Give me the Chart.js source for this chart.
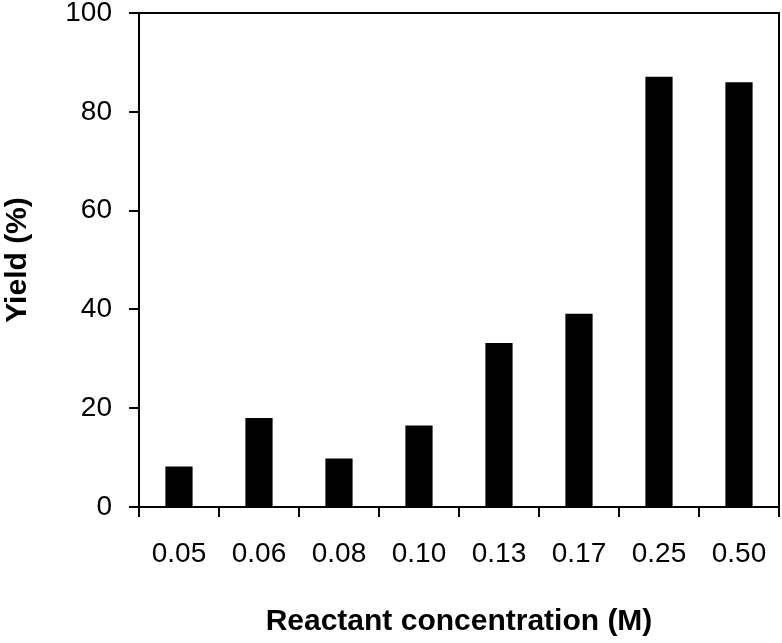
<!DOCTYPE html>
<html>
<head>
<meta charset="utf-8">
<script src="https://cdn.jsdelivr.net/npm/chart.js@4.4.1/dist/chart.umd.min.js"></script>
<style>
  html, body { margin: 0; padding: 0; background: #fff; }
</style>
</head>
<body>
<canvas id="myChart" width="782" height="643"></canvas>
<script>
// categories and values
var concentrations = ["0.05", "0.06", "0.08", "0.10", "0.13", "0.17", "0.25", "0.50"];
var yields = [8.2, 18, 9.8, 16.5, 33.2, 39.1, 87.1, 86.0];
var yTicks = [0, 20, 40, 60, 80, 100];

var fontFamily = "'Liberation Sans', Arial, sans-serif";

// box round the plot area (top and right sides)
var frame = {
  id: 'frame',
  afterDraw: function(chart) {
    var a = chart.chartArea;
    var ctx = chart.ctx;
    ctx.save();
    ctx.strokeStyle = '#000';
    ctx.lineWidth = 2;
    ctx.strokeRect(a.left, a.top, a.right - a.left, a.bottom - a.top);
    ctx.restore();
  }
};

function createChart() {
  var ctx = document.getElementById('myChart').getContext('2d');
  var chart = new Chart(ctx, {
    type: 'bar',
    data: {
      labels: concentrations,
      datasets: [{
        data: yields,
        backgroundColor: '#000',
        borderWidth: 0,
        barPercentage: 0.34,
        categoryPercentage: 1
      }]
    },
    options: {
      responsive: false,
      animation: false,
      layout: { padding: { top: 13, right: 3, left: 0, bottom: 0 } },
      plugins: {
        legend: { display: false },
        tooltip: { enabled: false }
      },
      scales: {
        x: {
          grid: { drawOnChartArea: false, tickLength: 10, color: '#000', lineWidth: 2, offset: true },
          border: { color: '#000', width: 2 },
          ticks: { color: '#000', padding: 20, maxRotation: 0, font: { family: fontFamily, size: 28 } },
          title: {
            display: true,
            text: 'Reactant concentration (M)',
            color: '#000',
            padding: { top: 0, bottom: 3 },
            font: { family: fontFamily, size: 30, weight: 'bold' }
          },
          afterFit: function(scale) {
            scale.height = 136;
            scale.paddingLeft = 0;
            scale.paddingRight = 0;
          }
        },
        y: {
          min: 0,
          max: 100,
          afterBuildTicks: function(scale) {
            scale.ticks = yTicks.map(function(v) { return { value: v }; });
          },
          grid: { drawOnChartArea: false, tickLength: 10, color: '#000', lineWidth: 2 },
          border: { color: '#000', width: 2 },
          ticks: { color: '#000', padding: 17, font: { family: fontFamily, size: 28 } },
          title: {
            display: true,
            text: 'Yield (%)',
            color: '#000',
            padding: { top: 0, bottom: 0 },
            font: { family: fontFamily, size: 30, weight: 'bold' }
          },
          afterFit: function(scale) {
            scale.width = 139;
            scale.paddingTop = 0;
            scale.paddingBottom = 0;
          }
        }
      }
    },
    plugins: [frame]
  });
}

createChart();
</script>
</body>
</html>
